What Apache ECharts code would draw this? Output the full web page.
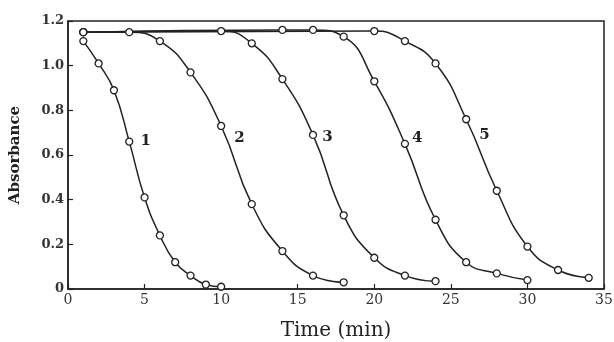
<!DOCTYPE html>
<html>
<head>
<meta charset="utf-8">
<script src="https://cdn.jsdelivr.net/npm/echarts@6/dist/echarts.min.js"></script>
<style>html,body{margin:0;padding:0;background:#fff}#c{width:614px;height:342px}</style>
</head>
<body>
<div id="c"></div>
<script>
// Curve 1..5: [time (min), absorbance]
const curve1 = [[1,1.11],[2,1.01],[3,0.89],[4,0.66],[5,0.41],[6,0.24],[7,0.12],[8,0.06],[9,0.02],[10,0.01]];
const curve2 = [[1,1.15],[4,1.15],[6,1.11],[8,0.97],[10,0.73],[12,0.38],[14,0.17],[16,0.06],[18,0.03]];
const curve3 = [[1,1.15],[10,1.155],[12,1.10],[14,0.94],[16,0.69],[18,0.33],[20,0.14],[22,0.06],[24,0.035]];
const curve4 = [[1,1.15],[14,1.16],[16,1.16],[18,1.13],[20,0.93],[22,0.65],[24,0.31],[26,0.12],[28,0.07],[30,0.04]];
const curve5 = [[1,1.15],[20,1.155],[22,1.11],[24,1.01],[26,0.76],[28,0.44],[30,0.19],[32,0.085],[34,0.05]];
const curveNames = ['1','2','3','4','5'];
const labelAt = [4, 10, 16, 22, 26]; // time of the point carrying each curve's label
const xTicks = [0,5,10,15,20,25,30,35];
const yTicks = [0,0.2,0.4,0.6,0.8,1.0,1.2];
const xTitle = 'Time (min)';
const yTitle = 'Absorbance';

const curves = [curve1, curve2, curve3, curve4, curve5];
const labelOffsets = [[2,0],[4,12],[0,2],[-2,-6],[4,16]];
const serif = '"DejaVu Serif", "Liberation Serif", serif';

const chart = echarts.init(document.getElementById('c'), null, {renderer:'canvas'});
chart.setOption({
  animation: false,
  backgroundColor: '#ffffff',
  grid: {left: 68, right: 10, top: 21, bottom: 53, containLabel: false, outerBoundsMode: 'none',
    show: true, borderColor: '#222', borderWidth: 1.5},
  xAxis: {
    type: 'value', min: 0, max: 35, interval: 5,
    axisLine: {show: true, lineStyle: {color: '#222', width: 1.5}},
    axisTick: {show: true, inside: true, length: 5, lineStyle: {color: '#222', width: 1.2}},
    splitLine: {show: false},
    axisLabel: {color: '#333', fontFamily: serif, fontSize: 14, margin: 4,
      formatter: v => xTicks.includes(v) ? String(v) : ''},
    name: xTitle, nameLocation: 'middle', nameGap: 32,
    nameTextStyle: {color: '#222', fontFamily: serif, fontSize: 20}
  },
  yAxis: {
    type: 'value', min: 0, max: 1.2, interval: 0.2,
    axisLine: {show: true, lineStyle: {color: '#222', width: 1.5}},
    axisTick: {show: true, inside: true, length: 5, lineStyle: {color: '#222', width: 1.2}},
    splitLine: {show: false},
    axisLabel: {color: '#333', fontFamily: serif, fontSize: 13, fontWeight: 'bold', margin: 4,
      formatter: v => { const t = yTicks.find(k => Math.abs(k - v) < 1e-9); return t === undefined ? '' : (t === 0 ? '0' : t.toFixed(1)); }},
    name: yTitle, nameLocation: 'middle', nameGap: 45, nameRotate: 90,
    nameTextStyle: {color: '#222', fontFamily: serif, fontSize: 15, fontWeight: 'bold'}
  },
  series: curves.map((c, i) => ({
    type: 'line', name: curveNames[i],
    smooth: 0.5,
    symbol: 'circle', symbolSize: 7, showAllSymbol: true,
    lineStyle: {color: '#222', width: 1.5},
    itemStyle: {color: '#fff', borderColor: '#222', borderWidth: 1.3},
    data: c.map(p => p[0] === labelAt[i] ? {
      value: p,
      label: {show: true, formatter: curveNames[i], position: 'right', offset: labelOffsets[i],
        color: '#222', fontFamily: serif, fontSize: 15, fontWeight: 'bold'}
    } : {value: p}),
    z: 2
  }))
});
</script>
</body>
</html>
